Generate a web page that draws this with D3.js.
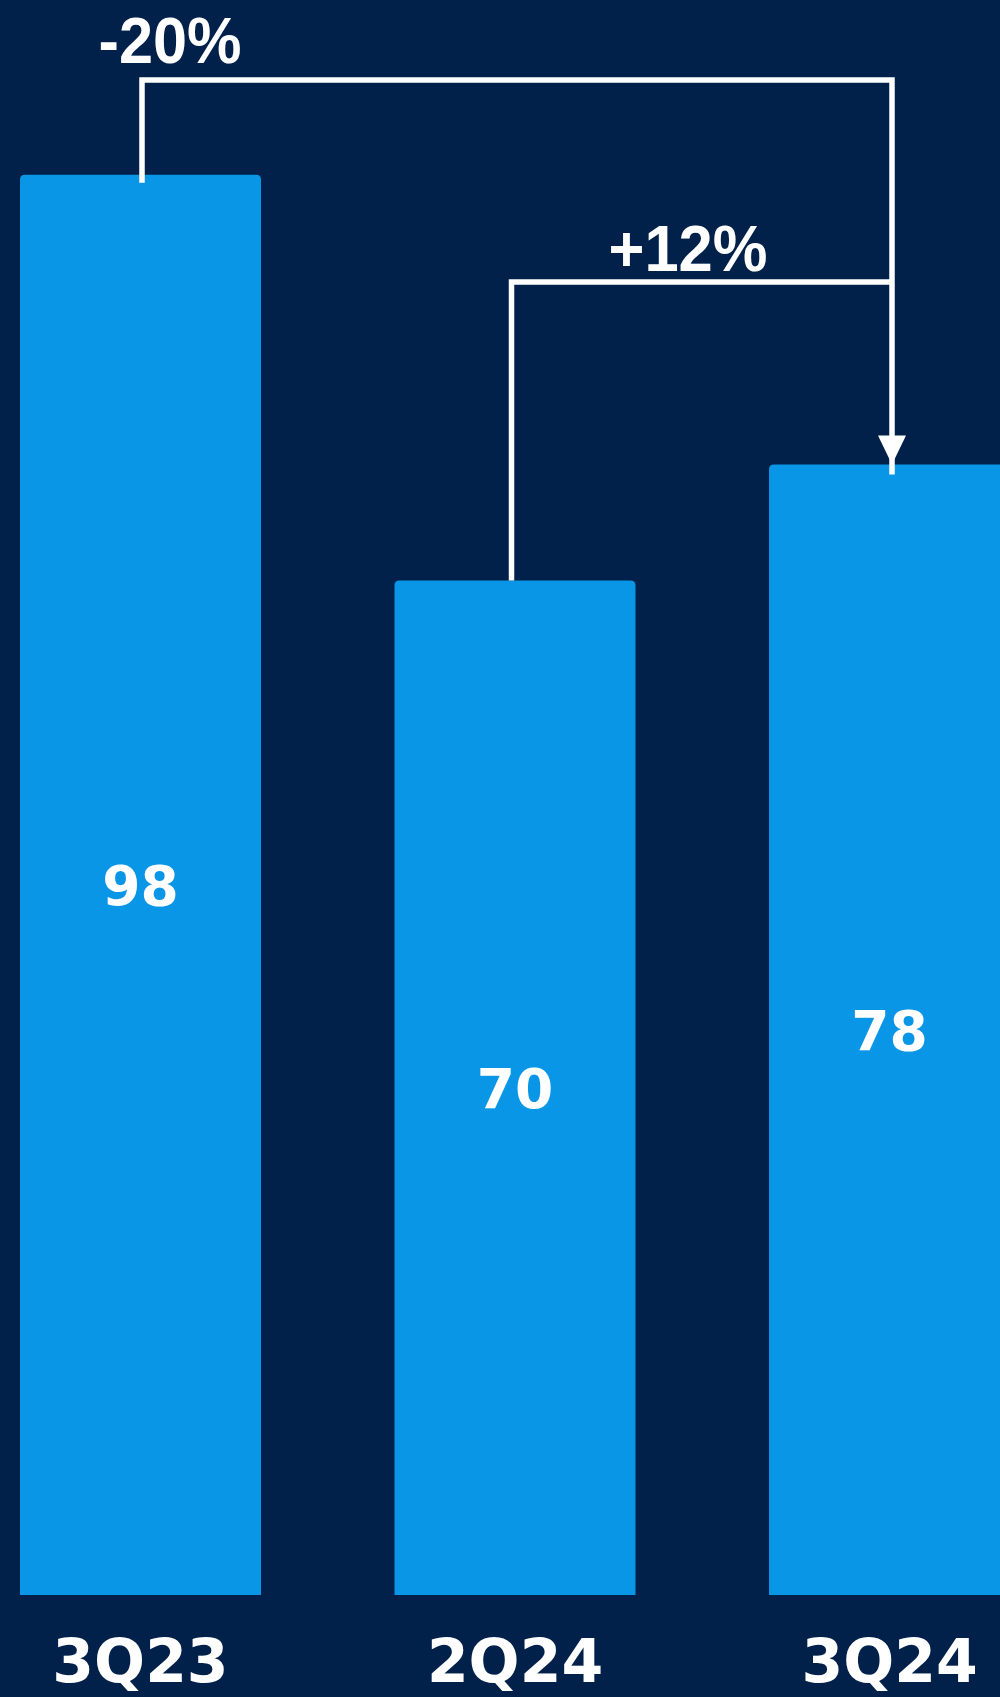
<!DOCTYPE html>
<html>
<head>
<meta charset="utf-8">
<script src="https://cdn.jsdelivr.net/npm/d3@7"></script>
<style>
  html, body { margin: 0; padding: 0; background: #01204a; }
  svg { display: block; }
</style>
</head>
<body>
<svg id="chart" width="1000" height="1697"></svg>
<script>
// Quarterly values
const categories = ["3Q23", "2Q24", "3Q24"];
const values = [98, 70, 78];

// Period-over-period changes drawn as brackets into the latest quarter
const changes = [
  { from: "3Q23", to: "3Q24", label: "-20%" },
  { from: "2Q24", to: "3Q24", label: "+12%" }
];

const W = 1000, H = 1697;
const svg = d3.select("#chart");

svg.append("rect").attr("width", W).attr("height", H).attr("fill", "#01204a");

const x = d3.scaleBand()
  .domain(categories)
  .range([20, 1010])
  .paddingInner(0.3565)
  .paddingOuter(0);

const y = d3.scaleLinear()
  .domain([0, 100])
  .range([1595, 145.7]);

const bw = x.bandwidth();
const r = 5;

// Bars with softly rounded top corners
function barPath(x0, y0, w, h) {
  return `M${x0},${y0 + h}V${y0 + r}Q${x0},${y0} ${x0 + r},${y0}` +
         `H${x0 + w - r}Q${x0 + w},${y0} ${x0 + w},${y0 + r}V${y0 + h}Z`;
}

const data = categories.map((c, i) => ({ cat: c, value: values[i] }));

svg.append("g").selectAll("path")
  .data(data)
  .join("path")
  .attr("d", d => barPath(x(d.cat), y(d.value), bw, y(0) - y(d.value)))
  .attr("fill", "#0a96e6");

// Value labels centred in each bar
svg.append("g").selectAll("text")
  .data(data)
  .join("text")
  .attr("x", d => x(d.cat) + bw / 2)
  .attr("y", d => (y(d.value) + y(0)) / 2)
  .attr("dy", "0.36em")
  .attr("text-anchor", "middle")
  .attr("font-family", "'DejaVu Sans', Verdana, sans-serif")
  .attr("font-weight", "bold")
  .attr("font-size", 55)
  .attr("fill", "#ffffff")
  .text(d => d.value);

// Category axis labels
const xAxis = svg.append("g")
  .attr("transform", `translate(0,${y(0)})`)
  .call(d3.axisBottom(x).tickSize(0).tickPadding(0));
xAxis.select(".domain").remove();
xAxis.selectAll("text")
  .attr("y", 87)
  .attr("dy", 0)
  .attr("font-family", "'DejaVu Sans', Verdana, sans-serif")
  .attr("font-weight", "bold")
  .attr("font-size", 60)
  .attr("fill", "#ffffff");

// Change brackets
const valueOf = c => values[categories.indexOf(c)];
const cx = c => x(c) + bw / 2;
const bracketY = [80, 282];
const fromOffset = [1.5, -3.5];
const labelX = [170, 688];
const labelBase = [63, 271];
const labelWidth = [143, 159];

const gB = svg.append("g")
  .attr("fill", "none")
  .attr("stroke", "#ffffff")
  .attr("stroke-width", 5.5)
  .attr("stroke-linejoin", "miter");

changes.forEach((ch, i) => {
  const x1 = cx(ch.from) + fromOffset[i];
  const x2 = cx(ch.to) + 2.5;
  const yStart = y(valueOf(ch.from)) + (i === 0 ? 8 : 0);
  const by = bracketY[i];
  const yEnd = i === 0 ? y(valueOf(ch.to)) + 10 : by;
  gB.append("path")
    .attr("d", `M${x1},${yStart}V${by}H${x2}V${yEnd}`);

  svg.append("text")
    .attr("x", labelX[i])
    .attr("y", labelBase[i])
    .attr("text-anchor", "middle")
    .attr("font-family", "'Liberation Sans Narrow', 'Liberation Sans', Arial, sans-serif")
    .attr("font-weight", "bold")
    .attr("font-size", 64)
    .attr("textLength", labelWidth[i])
    .attr("lengthAdjust", "spacingAndGlyphs")
    .attr("fill", "#ffffff")
    .text(ch.label);
});

// Arrowhead pointing into the latest bar
const tipX = cx("3Q24") + 2.5;
const tipY = y(valueOf("3Q24"));
svg.append("path")
  .attr("d", `M${tipX - 14},${tipY - 29}L${tipX + 14},${tipY - 29}L${tipX},${tipY}Z`)
  .attr("fill", "#ffffff");
</script>
</body>
</html>
